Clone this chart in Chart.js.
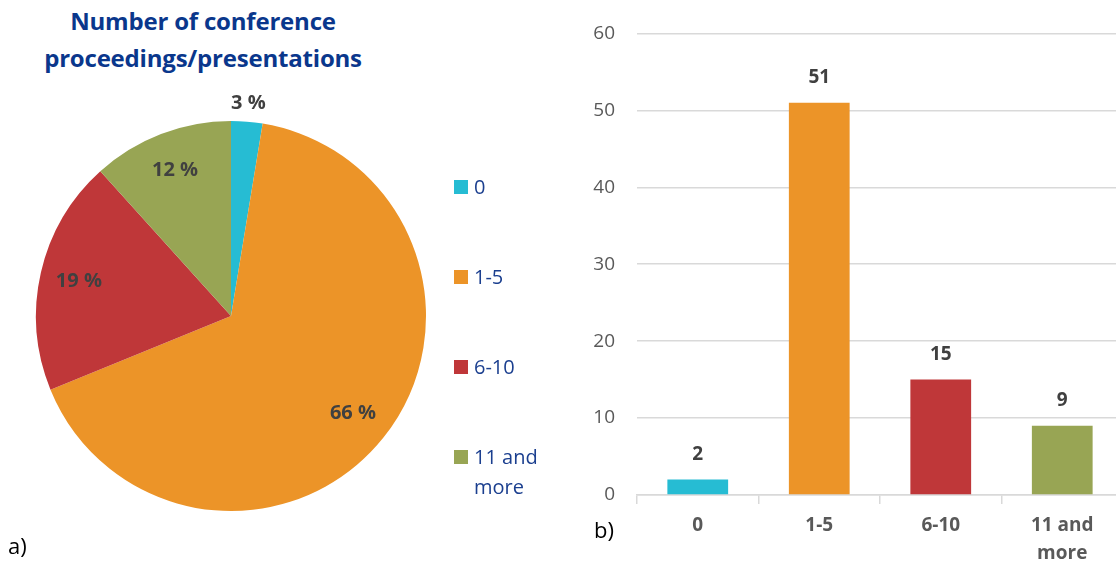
<!DOCTYPE html>
<html>
<head>
<meta charset="utf-8">
<script src="https://cdn.jsdelivr.net/npm/chart.js@4.4.0/dist/chart.umd.min.js"></script>
<style>
  html, body { margin:0; padding:0; background:#fff; overflow:hidden; }
  body { width:1116px; height:563px; position:relative; font-family:"Open Sans", sans-serif; }
  #pieBox { position:absolute; left:0; top:0; width:580px; height:563px; }
  #barBox { position:absolute; left:582px; top:0; width:545px; height:563px; }
  #title { position:absolute; left:0; width:406px; top:2px; text-align:center; font-weight:bold;
           font-size:24px; line-height:37px; color:#0a378c; letter-spacing:-0.2px; }
  .legItem { position:absolute; left:454px; font-size:20px; line-height:30px; color:#1b3f8f; }
  .legItem span.sw { position:absolute; left:0; top:8px; width:14px; height:14px; }
  .legItem span.tx { position:absolute; left:20px; top:0; width:90px; }
  .tag { position:absolute; font-size:22px; color:#000; }
</style>
</head>
<body>
<div id="title">Number of conference<br>proceedings/presentations</div>
<div id="pieBox"><canvas id="pieChart"></canvas></div>
<div id="barBox"><canvas id="barChart"></canvas></div>
<div id="legend"></div>
<div class="tag" style="left:8px; top:530px;">a)</div>
<div class="tag" style="left:594px; top:514px;">b)</div>
<script>
// categories and answer counts
var categories = ['0', '1-5', '6-10', '11 and more'];
var tickNames = ['0', '1-5', '6-10', ['11 and', 'more']];
var counts = [2, 51, 15, 9];
var colors = ['#26bcd3', '#ec9428', '#bf3739', '#98a554'];
var yTicks = [0, 10, 20, 30, 40, 50, 60];

var total = counts.reduce(function(a, b){ return a + b; }, 0);

// legend for the pie (html)
var legend = document.getElementById('legend');
for (var i = 0; i < categories.length; i++) {
    var item = document.createElement('div');
    item.className = 'legItem';
    item.style.top = (172 + i * 90) + 'px';
    item.innerHTML = '<span class="sw" style="background:' + colors[i] + '"></span>' +
                     '<span class="tx">' + categories[i] + '</span>';
    legend.appendChild(item);
}

// percent labels on the pie
var pieLabels = {
    id: 'pieLabels',
    afterDatasetsDraw: function(chart) {
        var ctx = chart.ctx;
        var meta = chart.getDatasetMeta(0);
        ctx.save();
        ctx.font = 'bold 20px "Open Sans"';
        ctx.fillStyle = '#404040';
        ctx.textAlign = 'center';
        ctx.textBaseline = 'middle';
        meta.data.forEach(function(arc, i) {
            var pct = counts[i] / total * 100;
            var mid = (arc.startAngle + arc.endAngle) / 2;
            var r = pct < 5 ? arc.outerRadius + 18 : arc.outerRadius * 0.8;
            var x = arc.x + Math.cos(mid) * r;
            var y = arc.y + Math.sin(mid) * r;
            ctx.fillText(Math.round(pct) + ' %', x, y);
        });
        ctx.restore();
    }
};

// value labels above bars
var barLabels = {
    id: 'barLabels',
    afterDatasetsDraw: function(chart) {
        var ctx = chart.ctx;
        var meta = chart.getDatasetMeta(0);
        ctx.save();
        ctx.font = 'bold 19px "Open Sans"';
        ctx.fillStyle = '#404040';
        ctx.textAlign = 'center';
        ctx.textBaseline = 'middle';
        meta.data.forEach(function(bar, i) {
            ctx.fillText(String(counts[i]), bar.x, bar.y - 25);
        });
        ctx.restore();
    }
};

new Chart(document.getElementById('pieChart'), {
    type: 'pie',
    data: {
        labels: categories,
        datasets: [{ data: counts, backgroundColor: colors, borderWidth: 0 }]
    },
    options: {
        responsive: true,
        maintainAspectRatio: false,
        animation: false,
        layout: { padding: { left: 36, right: 154, top: 121, bottom: 52 } },
        plugins: { legend: { display: false }, tooltip: { enabled: false } }
    },
    plugins: [pieLabels]
});

new Chart(document.getElementById('barChart'), {
    type: 'bar',
    data: {
        labels: tickNames,
        datasets: [{ data: counts, backgroundColor: colors, barPercentage: 0.5, categoryPercentage: 1 }]
    },
    options: {
        responsive: true,
        maintainAspectRatio: false,
        animation: false,
        layout: { padding: { left: 0, right: 4, top: 27, bottom: 0 } },
        plugins: { legend: { display: false }, tooltip: { enabled: false } },
        scales: {
            y: {
                min: 0, max: 60,
                afterFit: function(scale) { scale.width = 55; },
                afterBuildTicks: function(scale) {
                    scale.ticks = yTicks.map(function(v){ return { value: v }; });
                },
                border: { display: false },
                grid: { color: '#d9d9d9', lineWidth: 1.5, drawTicks: false },
                ticks: { padding: 22, color: '#595959', font: { family: 'Open Sans', size: 19 } }
            },
            x: {
                afterFit: function(scale) { scale.height = 68; },
                border: { display: true, color: '#d9d9d9', width: 1.5 },
                grid: { drawOnChartArea: false, drawTicks: true, tickLength: 9, color: '#d9d9d9', lineWidth: 1.5 },
                ticks: { padding: 8, color: '#595959', maxRotation: 0,
                         font: { family: 'Open Sans', size: 19, weight: 'bold', lineHeight: 1.45 } }
            }
        }
    },
    plugins: [barLabels]
});
</script>
</body>
</html>
